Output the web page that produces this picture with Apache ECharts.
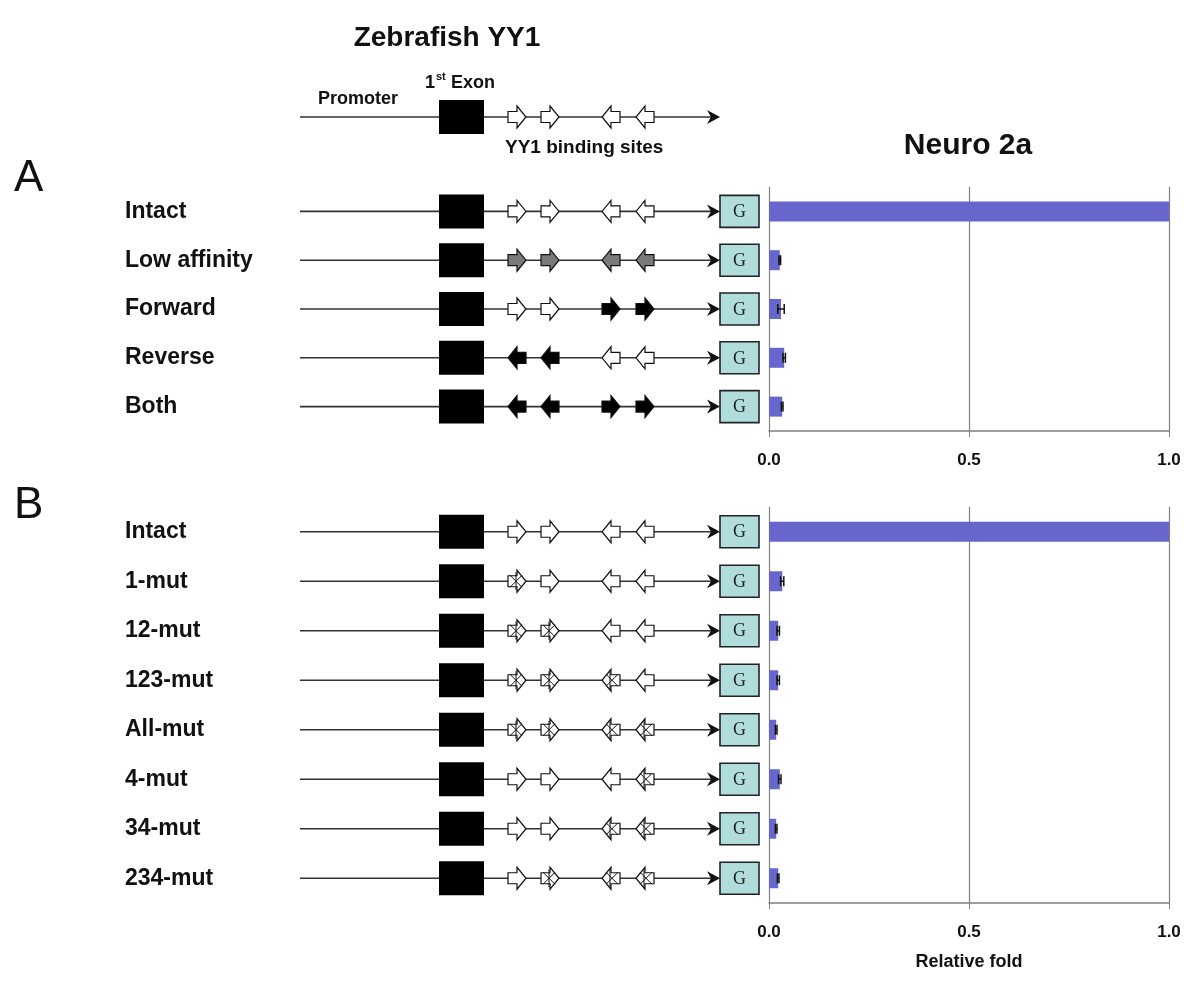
<!DOCTYPE html>
<html>
<head>
<meta charset="utf-8">
<script src="https://cdn.jsdelivr.net/npm/echarts@6.0.0/dist/echarts.min.js"></script>
<style>
  html, body { margin: 0; padding: 0; background: #fff; }
  #chart { width: 1200px; height: 983px; }
</style>
</head>
<body>
<div id="chart"></div>
<script>
// construct names
var constructsA = ['Intact', 'Low affinity', 'Forward', 'Reverse', 'Both'];
var constructsB = ['Intact', '1-mut', '12-mut', '123-mut', 'All-mut', '4-mut', '34-mut', '234-mut'];

// YY1 binding sites per construct: fill-direction
var sitesHeader = [['open-r', 'open-r', 'open-l', 'open-l']];
var sitesA = [
  ['open-r', 'open-r', 'open-l', 'open-l'],
  ['gray-r', 'gray-r', 'gray-l', 'gray-l'],
  ['open-r', 'open-r', 'black-r', 'black-r'],
  ['black-l', 'black-l', 'open-l', 'open-l'],
  ['black-l', 'black-l', 'black-r', 'black-r']
];
var sitesB = [
  ['open-r', 'open-r', 'open-l', 'open-l'],
  ['mut-r', 'open-r', 'open-l', 'open-l'],
  ['mut-r', 'mut-r', 'open-l', 'open-l'],
  ['mut-r', 'mut-r', 'mut-l', 'open-l'],
  ['mut-r', 'mut-r', 'mut-l', 'mut-l'],
  ['open-r', 'open-r', 'open-l', 'mut-l'],
  ['open-r', 'open-r', 'mut-l', 'mut-l'],
  ['open-r', 'mut-r', 'mut-l', 'mut-l']
];

// schematic map (arbitrary units along the construct)
var lineSpan = [0, 420];
var exonSpan = [139, 184];
var sitePos = [217, 250, 311, 345];
var reporterSpan = [420, 459];

// relative fold (Neuro 2a)
var foldA = [1.0, 0.027, 0.030, 0.038, 0.033];
var errA = [0, 0.002, 0.008, 0.003, 0.002];
var foldB = [1.0, 0.033, 0.023, 0.023, 0.018, 0.027, 0.018, 0.023];
var errB = [0, 0.004, 0.003, 0.003, 0.002, 0.003, 0.002, 0.002];

var foldTicks = [0, 0.5, 1.0];

var SANS = '"Liberation Sans", Arial, sans-serif';
var fills = { open: '#ffffff', gray: '#7a7a7a', black: '#000000', mut: '#ffffff' };

function siteShape(cx, y, kind) {
  var parts = kind.split('-');
  var s = parts[1] === 'r' ? 1 : -1;
  var pts = [
    [cx - 9 * s, y - 5.5], [cx, y - 5.5], [cx, y - 11], [cx + 9 * s, y],
    [cx, y + 11], [cx, y + 5.5], [cx - 9 * s, y + 5.5]
  ];
  var out = [{
    type: 'polygon',
    shape: { points: pts },
    style: { fill: fills[parts[0]], stroke: '#111', lineWidth: 1.2 }
  }];
  if (parts[0] === 'mut') {
    out.push({ type: 'line', shape: { x1: cx - 7 * s, y1: y - 6, x2: cx + 5 * s, y2: y + 6 }, style: { stroke: '#111', lineWidth: 1 } });
    out.push({ type: 'line', shape: { x1: cx - 7 * s, y1: y + 6, x2: cx + 5 * s, y2: y - 6 }, style: { stroke: '#111', lineWidth: 1 } });
    out.push({ type: 'line', shape: { x1: cx - 1, y1: y - 9, x2: cx - 1, y2: y + 9 }, style: { stroke: '#111', lineWidth: 1 } });
  }
  return out;
}

function constructRenderer(sitesRows, withReporter) {
  return function (params, api) {
    var row = api.value(1);
    var y = api.coord([0, row])[1];
    var px = function (v) { return api.coord([v, row])[0]; };
    var tip = px(lineSpan[1]);
    var ch = [];
    ch.push({ type: 'line', shape: { x1: px(lineSpan[0]), y1: y, x2: tip - 8, y2: y }, style: { stroke: '#333', lineWidth: 1.6 } });
    ch.push({ type: 'polygon', shape: { points: [[tip - 13, y - 7], [tip, y], [tip - 13, y + 7], [tip - 9, y]] }, style: { fill: '#111' } });
    ch.push({ type: 'rect', shape: { x: px(exonSpan[0]), y: y - 17, width: px(exonSpan[1]) - px(exonSpan[0]), height: 34 }, style: { fill: '#000' } });
    sitesRows[row].forEach(function (k, i) {
      ch = ch.concat(siteShape(px(sitePos[i]), y, k));
    });
    if (withReporter) {
      var x0 = px(reporterSpan[0]), x1 = px(reporterSpan[1]);
      ch.push({ type: 'rect', shape: { x: x0, y: y - 16, width: x1 - x0, height: 32 }, style: { fill: '#b0dcdc', stroke: '#222', lineWidth: 1.6 } });
      ch.push({ type: 'text', x: (x0 + x1) / 2, y: y + 1, style: { text: 'G', align: 'center', verticalAlign: 'middle', font: '18px "Liberation Serif", serif', fill: '#222' } });
    }
    return { type: 'group', children: ch };
  };
}

function errRenderer(params, api) {
  var v = api.value(0), row = api.value(1), e = api.value(2);
  if (!e) return;
  var a = api.coord([v - e, row]), b = api.coord([v + e, row]);
  var st = { stroke: '#111', lineWidth: 1.5 };
  return {
    type: 'group',
    children: [
      { type: 'line', shape: { x1: a[0], y1: a[1], x2: b[0], y2: b[1] }, style: st },
      { type: 'line', shape: { x1: a[0], y1: a[1] - 5, x2: a[0], y2: a[1] + 5 }, style: st },
      { type: 'line', shape: { x1: b[0], y1: b[1] - 5, x2: b[0], y2: b[1] + 5 }, style: st }
    ]
  };
}

function hiddenX(gi) {
  return { gridIndex: gi, type: 'value', min: 0, max: 460, show: false };
}
function foldX(gi, withName) {
  var ax = {
    gridIndex: gi, type: 'value', min: foldTicks[0], max: foldTicks[foldTicks.length - 1], interval: 0.5,
    axisLine: { show: true, lineStyle: { color: '#808080', width: 1.5 } },
    axisTick: { show: true, length: 6, lineStyle: { color: '#808080' } },
    splitLine: { show: true, lineStyle: { color: '#808080', width: 1.2 } },
    axisLabel: { margin: 21, color: '#111', fontFamily: SANS, fontWeight: 'bold', fontSize: 17,
      formatter: function (v) { return v.toFixed(1); } }
  };
  if (withName) {
    ax.name = 'Relative fold';
    ax.nameLocation = 'middle';
    ax.nameGap = 50;
    ax.nameTextStyle = { color: '#111', fontFamily: SANS, fontWeight: 'bold', fontSize: 18 };
  }
  return ax;
}
function catY(gi, cats, showLabels) {
  return {
    gridIndex: gi, type: 'category', data: cats, inverse: true,
    axisLine: { show: false }, axisTick: { show: false }, splitLine: { show: false },
    axisLabel: { show: showLabels, align: 'left', margin: 175, color: '#111',
      fontFamily: SANS, fontWeight: 'bold', fontSize: 23 }
  };
}

var chart = echarts.init(document.getElementById('chart'));
chart.setOption({
  backgroundColor: '#fff',
  animation: false,
  grid: [
    { left: 300, width: 460, top: 102, height: 30 },
    { left: 300, width: 460, top: 187, height: 244 },
    { left: 769, width: 400, top: 187, height: 244 },
    { left: 300, width: 460, top: 507, height: 396 },
    { left: 769, width: 400, top: 507, height: 396 }
  ],
  xAxis: [hiddenX(0), hiddenX(1), foldX(2, false), hiddenX(3), foldX(4, true)],
  yAxis: [
    catY(0, ['YY1'], false),
    catY(1, constructsA, true),
    catY(2, constructsA, false),
    catY(3, constructsB, true),
    catY(4, constructsB, false)
  ],
  graphic: [
    { type: 'text', x: 447, y: 38, style: { text: 'Zebrafish YY1', align: 'center', verticalAlign: 'middle', font: 'bold 28px ' + SANS, fill: '#111' } },
    { type: 'text', x: 318, y: 99, style: { text: 'Promoter', align: 'left', verticalAlign: 'middle', font: 'bold 18px ' + SANS, fill: '#111' } },
    { type: 'text', x: 425, y: 83, style: { text: '1', align: 'left', verticalAlign: 'middle', font: 'bold 18px ' + SANS, fill: '#111' } },
    { type: 'text', x: 436, y: 77, style: { text: 'st', align: 'left', verticalAlign: 'middle', font: 'bold 11px ' + SANS, fill: '#111' } },
    { type: 'text', x: 451, y: 83, style: { text: 'Exon', align: 'left', verticalAlign: 'middle', font: 'bold 18px ' + SANS, fill: '#111' } },
    { type: 'text', x: 505, y: 148, style: { text: 'YY1 binding sites', align: 'left', verticalAlign: 'middle', font: 'bold 19px ' + SANS, fill: '#111' } },
    { type: 'text', x: 968, y: 146, style: { text: 'Neuro 2a', align: 'center', verticalAlign: 'middle', font: 'bold 30px ' + SANS, fill: '#111' } },
    { type: 'text', x: 14, y: 179, style: { text: 'A', align: 'left', verticalAlign: 'middle', font: '44px ' + SANS, fill: '#111' } },
    { type: 'text', x: 14, y: 506, style: { text: 'B', align: 'left', verticalAlign: 'middle', font: '44px ' + SANS, fill: '#111' } }
  ],
  series: [
    { type: 'custom', xAxisIndex: 0, yAxisIndex: 0, silent: true, encode: { x: 0, y: 1 },
      renderItem: constructRenderer(sitesHeader, false), data: [[0, 0]] },
    { type: 'custom', xAxisIndex: 1, yAxisIndex: 1, silent: true, encode: { x: 0, y: 1 },
      renderItem: constructRenderer(sitesA, true), data: constructsA.map(function (c, i) { return [0, i]; }) },
    { type: 'bar', xAxisIndex: 2, yAxisIndex: 2, barWidth: 20, silent: true,
      itemStyle: { color: '#6666cc' }, data: foldA },
    { type: 'custom', xAxisIndex: 2, yAxisIndex: 2, silent: true, encode: { x: 0, y: 1 }, z: 5,
      renderItem: errRenderer, data: foldA.map(function (v, i) { return [v, i, errA[i]]; }) },
    { type: 'custom', xAxisIndex: 3, yAxisIndex: 3, silent: true, encode: { x: 0, y: 1 },
      renderItem: constructRenderer(sitesB, true), data: constructsB.map(function (c, i) { return [0, i]; }) },
    { type: 'bar', xAxisIndex: 4, yAxisIndex: 4, barWidth: 20, silent: true,
      itemStyle: { color: '#6666cc' }, data: foldB },
    { type: 'custom', xAxisIndex: 4, yAxisIndex: 4, silent: true, encode: { x: 0, y: 1 }, z: 5,
      renderItem: errRenderer, data: foldB.map(function (v, i) { return [v, i, errB[i]]; }) }
  ]
});
</script>
</body>
</html>
